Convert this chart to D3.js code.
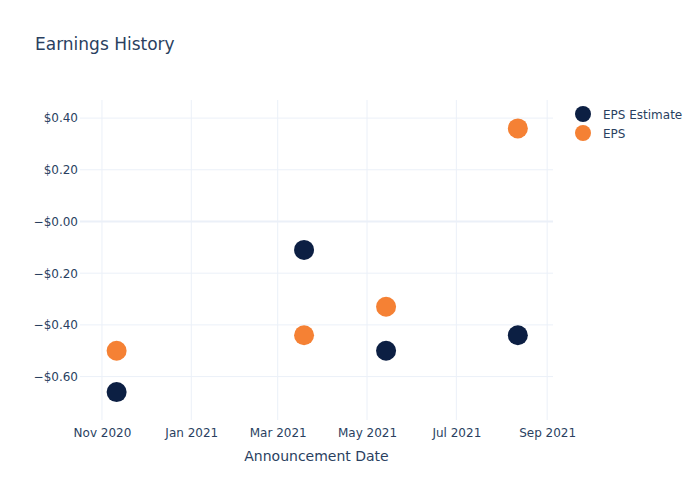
<!DOCTYPE html>
<html><head><meta charset="utf-8">
<script src="https://cdn.jsdelivr.net/npm/d3@7"></script>
<style>body{margin:0;background:#fff;} svg{font-family:"DejaVu Sans",verdana,sans-serif;}</style>
</head><body><svg id="c" width="700" height="500"></svg>
<script>
const dates = ["2020-11-11", "2021-03-19", "2021-05-14", "2021-08-12"];
const epsEstimate = [-0.66, -0.11, -0.50, -0.44];
const eps = [-0.50, -0.44, -0.33, 0.36];
const yTicks = [0.4, 0.2, 0, -0.2, -0.4, -0.6];
const yTickLabels = ["$0.40", "$0.20", "\u2212$0.00", "\u2212$0.20", "\u2212$0.40", "\u2212$0.60"];
const xTicks = ["2020-11-01", "2021-01-01", "2021-03-01", "2021-05-01", "2021-07-01", "2021-09-01"];
const xTickLabels = ["Nov 2020", "Jan 2021", "Mar 2021", "May 2021", "Jul 2021", "Sep 2021"];
const seriesNames = ["EPS Estimate", "EPS"];
const colors = ["#0c1f43", "#f58134"];

const parse = d3.timeParse("%Y-%m-%d");
const svg = d3.select("#c");
const L = 80, R = 553, T = 100, B = 420;
const textColor = "#2a3f5f", gridColor = "#ebf0f8";
const font = "'DejaVu Sans',verdana,sans-serif";

const x = d3.scaleTime().domain([parse("2020-10-17"), parse("2021-09-05")]).range([L, R]);
const y = d3.scaleLinear().domain([-0.768, 0.470]).range([B, T]);

// grid
const gx = svg.append("g");
gx.selectAll("line").data(xTicks).join("line")
  .attr("x1", d => x(parse(d))).attr("x2", d => x(parse(d)))
  .attr("y1", T).attr("y2", B).attr("stroke", gridColor).attr("stroke-width", 1);
const gy = svg.append("g");
gy.selectAll("line").data(yTicks).join("line")
  .attr("x1", L).attr("x2", R).attr("y1", d => y(d)).attr("y2", d => y(d))
  .attr("stroke", gridColor).attr("stroke-width", d => d === 0 ? 2 : 1);

// axes via d3 axis
const yAxis = d3.axisLeft(y).tickValues(yTicks).tickSize(0).tickPadding(2)
  .tickFormat((d, i) => yTickLabels[i]);
const ya = svg.append("g").attr("transform", `translate(${L},0)`).call(yAxis);
ya.select(".domain").remove();
ya.selectAll("text").attr("fill", textColor).attr("font-size", 12).attr("font-family", font);

const xAxis = d3.axisBottom(x).tickValues(xTicks.map(parse)).tickSize(0).tickPadding(8)
  .tickFormat((d, i) => xTickLabels[i]);
const xa = svg.append("g").attr("transform", `translate(0,${B})`).call(xAxis);
xa.select(".domain").remove();
xa.selectAll("text").attr("fill", textColor).attr("font-size", 12).attr("font-family", font);

// points
const series = [epsEstimate, eps];
series.forEach((vals, si) => {
  svg.append("g").selectAll("circle").data(vals).join("circle")
    .attr("cx", (d, i) => x(parse(dates[i]))).attr("cy", d => y(d))
    .attr("r", 10).attr("fill", colors[si]);
});

// title
svg.append("text").attr("x", 35).attr("y", 50).text("Earnings History")
  .attr("fill", textColor).attr("font-size", 17);
// x axis title
svg.append("text").attr("x", (L + R) / 2).attr("y", 461).attr("text-anchor", "middle")
  .text("Announcement Date").attr("fill", textColor).attr("font-size", 14);

// legend
const lg = svg.append("g");
seriesNames.forEach((n, i) => {
  lg.append("circle").attr("cx", 583).attr("cy", 114 + i * 19).attr("r", 8).attr("fill", colors[i]);
  lg.append("text").attr("x", 603).attr("y", 118.5 + i * 19).text(n)
    .attr("fill", textColor).attr("font-size", 12);
});
</script></body></html>
